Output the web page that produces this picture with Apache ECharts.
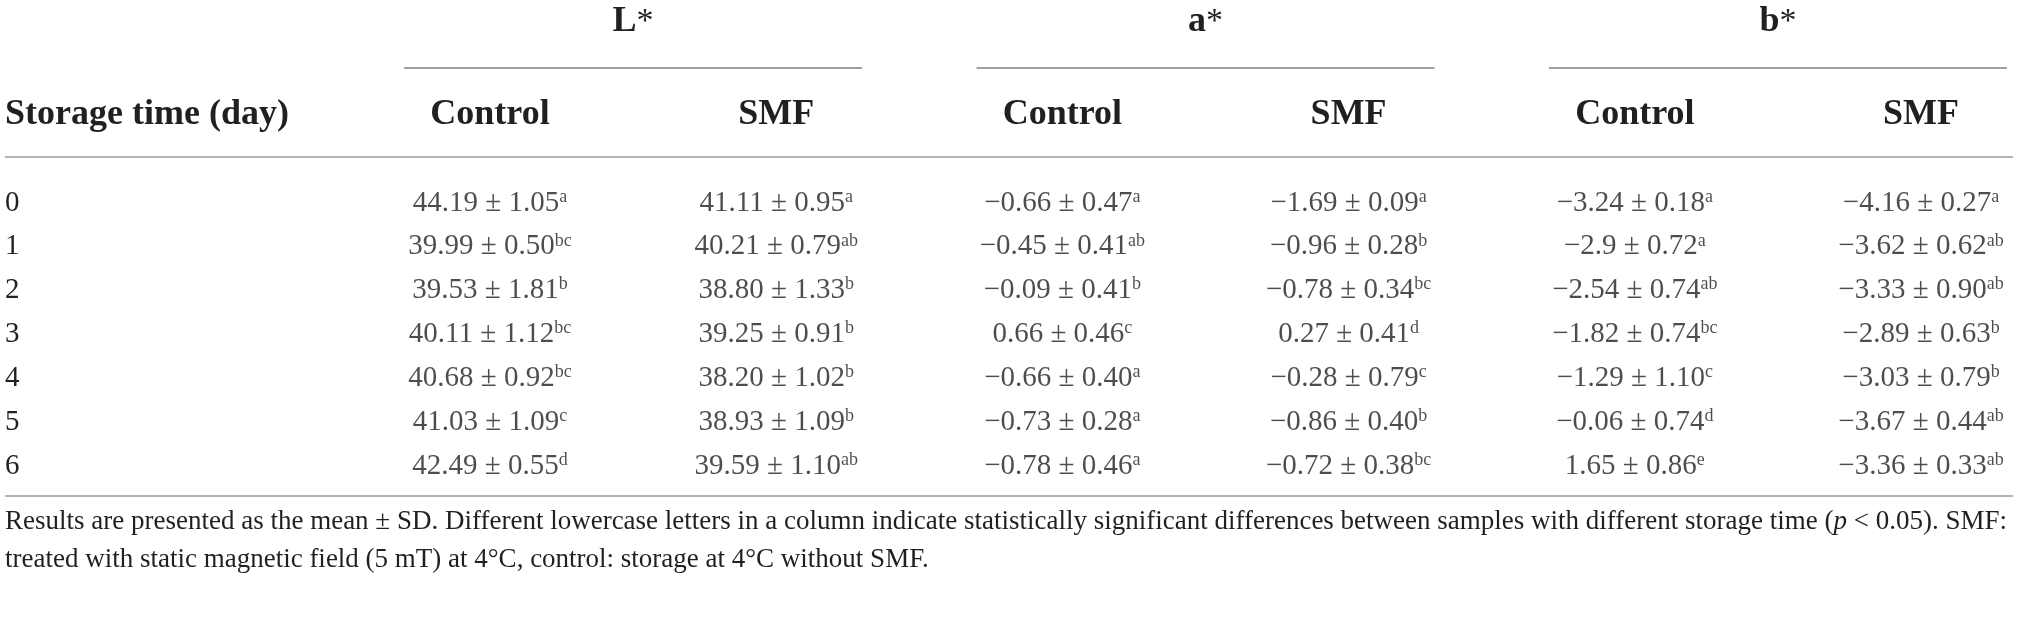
<!DOCTYPE html>
<html>
<head>
<meta charset="utf-8">
<script src="https://cdn.jsdelivr.net/npm/echarts@6/dist/echarts.min.js"></script>
<style>
html, body { margin: 0; padding: 0; background: #fff; }
#main { width: 2019px; height: 644px; }
</style>
</head>
<body>
<div id="main"></div>
<script>
// 行：贮藏天数
var days = ['0', '1', '2', '3', '4', '5', '6'];
// 分组表头与列表头
var groups = ['L', 'a', 'b'];
var columns = ['Control', 'SMF', 'Control', 'SMF', 'Control', 'SMF'];

// 每列：均值、标准差、显著性字母（按表中印刷值）
var lControlMean = ['44.19', '39.99', '39.53', '40.11', '40.68', '41.03', '42.49'];
var lControlSd   = ['1.05', '0.50', '1.81', '1.12', '0.92', '1.09', '0.55'];
var lControlSig  = ['a', 'bc', 'b', 'bc', 'bc', 'c', 'd'];

var lSmfMean = ['41.11', '40.21', '38.80', '39.25', '38.20', '38.93', '39.59'];
var lSmfSd   = ['0.95', '0.79', '1.33', '0.91', '1.02', '1.09', '1.10'];
var lSmfSig  = ['a', 'ab', 'b', 'b', 'b', 'b', 'ab'];

var aControlMean = ['-0.66', '-0.45', '-0.09', '0.66', '-0.66', '-0.73', '-0.78'];
var aControlSd   = ['0.47', '0.41', '0.41', '0.46', '0.40', '0.28', '0.46'];
var aControlSig  = ['a', 'ab', 'b', 'c', 'a', 'a', 'a'];

var aSmfMean = ['-1.69', '-0.96', '-0.78', '0.27', '-0.28', '-0.86', '-0.72'];
var aSmfSd   = ['0.09', '0.28', '0.34', '0.41', '0.79', '0.40', '0.38'];
var aSmfSig  = ['a', 'b', 'bc', 'd', 'c', 'b', 'bc'];

var bControlMean = ['-3.24', '-2.9', '-2.54', '-1.82', '-1.29', '-0.06', '1.65'];
var bControlSd   = ['0.18', '0.72', '0.74', '0.74', '1.10', '0.74', '0.86'];
var bControlSig  = ['a', 'a', 'ab', 'bc', 'c', 'd', 'e'];

var bSmfMean = ['-4.16', '-3.62', '-3.33', '-2.89', '-3.03', '-3.67', '-3.36'];
var bSmfSd   = ['0.27', '0.62', '0.90', '0.63', '0.79', '0.44', '0.33'];
var bSmfSig  = ['a', 'ab', 'ab', 'b', 'b', 'ab', 'ab'];

var footnote1 = 'Results are presented as the mean \u00b1 SD. Different lowercase letters in a column indicate statistically significant differences between samples with different storage time (';
var footnote2 = 'treated with static magnetic field (5 mT) at 4\u00b0C, control: storage at 4\u00b0C without SMF.';

var colData = [
    [lControlMean, lControlSd, lControlSig],
    [lSmfMean, lSmfSd, lSmfSig],
    [aControlMean, aControlSd, aControlSig],
    [aSmfMean, aSmfSd, aSmfSig],
    [bControlMean, bControlSd, bControlSig],
    [bSmfMean, bSmfSd, bSmfSig]
];

var FONT = '"Liberation Serif", "DejaVu Serif", serif';
var INK = '#231f20';

var chart = echarts.init(document.getElementById('main'));

function minus(s) { return s.replace('-', '\u2212'); }

var series = colData.map(function (c, ci) {
    return {
        type: 'scatter',
        symbolSize: 1,
        itemStyle: { color: 'rgba(0,0,0,0)' },
        silent: true,
        data: days.map(function (d, ri) {
            return { value: [ci, ri], mean: c[0][ri], sd: c[1][ri], sig: c[2][ri] };
        }),
        label: {
            show: true,
            position: 'inside',
            formatter: function (p) {
                return '{m|' + minus(p.data.mean) + ' \u00b1 ' + p.data.sd + '}{s|' + p.data.sig + '}';
            },
            rich: {
                m: { fontFamily: FONT, fontSize: 29, color: INK, lineHeight: 30 },
                s: { fontFamily: FONT, fontSize: 18, color: INK, lineHeight: 18, verticalAlign: 'top' }
            }
        }
    };
});

chart.setOption({
    animation: false,
    backgroundColor: '#fff',
    grid: { left: 490, right: 98, top: 203, bottom: 178 },
    xAxis: {
        type: 'value',
        position: 'top',
        min: 0,
        max: 5,
        interval: 1,
        axisLine: { show: false },
        axisTick: { show: false },
        splitLine: { show: false },
        axisLabel: {
            margin: 88,
            verticalAlign: 'middle',
            fontFamily: FONT,
            fontWeight: 'bold',
            fontSize: 36,
            color: INK,
            formatter: function (v) { return columns[v]; }
        }
    },
    yAxis: {
        type: 'category',
        inverse: true,
        boundaryGap: false,
        data: days,
        axisLine: { show: false },
        axisTick: { show: false },
        splitLine: { show: false },
        axisLabel: {
            align: 'left',
            margin: 485,
            fontFamily: FONT,
            fontSize: 29,
            color: INK
        }
    },
    series: series
});

// 表头线、分组标题、脚注
function px(x, y) { return chart.convertToPixel({ gridIndex: 0 }, [x, y]); }

var graphic = [];
groups.forEach(function (g, gi) {
    var a = px(gi * 2 - 0.3, 0);
    var b = px(gi * 2 + 1.3, 0);
    var c = px(gi * 2 + 0.5, 0);
    graphic.push({
        type: 'line', silent: true,
        shape: { x1: a[0], y1: 68, x2: b[0], y2: 68 },
        style: { stroke: '#808080', lineWidth: 1.5 }
    });
    graphic.push({
        type: 'text', silent: true,
        x: c[0], y: 22,
        style: {
            text: '{g|' + g + '}{s|*}',
            align: 'center', verticalAlign: 'middle',
            rich: {
                g: { fontFamily: FONT, fontWeight: 'bold', fontSize: 36, fill: INK, color: INK, lineHeight: 36 },
                s: { fontFamily: FONT, fontSize: 34, fill: INK, color: INK, lineHeight: 36 }
            }
        }
    });
});

graphic.push({
    type: 'text', silent: true, x: 5, y: 115,
    style: {
        text: 'Storage time (day)', fontFamily: FONT, fontWeight: 'bold', fontSize: 36,
        fill: INK, align: 'left', verticalAlign: 'middle'
    }
});

[157, 496].forEach(function (yy) {
    graphic.push({
        type: 'line', silent: true,
        shape: { x1: 5, y1: yy, x2: 2013, y2: yy },
        style: { stroke: '#b3b3b3', lineWidth: 2 }
    });
});

graphic.push({
    type: 'text', silent: true, x: 5, y: 522,
    style: {
        text: '{n|' + footnote1 + '}{i|p}{n| < 0.05). SMF:}',
        verticalAlign: 'middle',
        rich: {
            n: { fontFamily: FONT, fontSize: 27, fill: INK, color: INK },
            i: { fontFamily: FONT, fontSize: 27, fontStyle: 'italic', fill: INK, color: INK }
        }
    }
});
graphic.push({
    type: 'text', silent: true, x: 5, y: 560,
    style: {
        text: footnote2, fontFamily: FONT, fontSize: 27,
        fill: INK, align: 'left', verticalAlign: 'middle'
    }
});

chart.setOption({ graphic: graphic });
</script>
</body>
</html>
